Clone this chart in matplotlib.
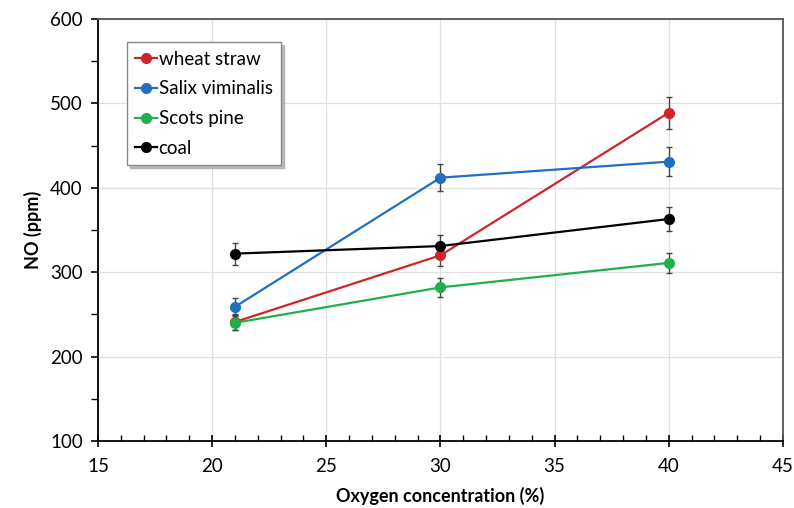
import matplotlib.pyplot as plt
from matplotlib.ticker import MultipleLocator
from matplotlib.lines import Line2D

plt.rcParams['font.family'] = ['Lato', 'DejaVu Sans']

# oxygen levels (%) and NO emissions (ppm) with std errors
oxygen = [21, 30, 40]
wheat_straw = [241, 320, 489]
wheat_straw_err = [9, 13, 19]
salix = [259, 412, 431]
salix_err = [10, 16, 17]
scots_pine = [240, 282, 311]
scots_pine_err = [8, 11, 12]
coal = [322, 331, 363]
coal_err = [13, 13, 14]

series = [
    ("wheat straw", wheat_straw, wheat_straw_err, "#d0242b"),
    ("Salix viminalis", salix, salix_err, "#1f70c1"),
    ("Scots pine", scots_pine, scots_pine_err, "#1fb04b"),
    ("coal", coal, coal_err, "black"),
]

fig = plt.figure(figsize=(7.94, 5.08), dpi=100)
ax = fig.add_axes([0.1234, 0.1319, 0.8627, 0.8307])

handles = []
for name, y, err, col in series:
    ax.errorbar(oxygen, y, yerr=err, color=col, marker='o', ms=7, lw=1.6,
                ecolor='#444444', elinewidth=1.0, capsize=2.5, capthick=1.0,
                zorder=3)
    handles.append(Line2D([], [], color=col, marker='o', ms=7, lw=1.6, label=name))

ax.set_xlim(15, 45)
ax.set_ylim(100, 600)
ax.xaxis.set_major_locator(MultipleLocator(5))
ax.xaxis.set_minor_locator(MultipleLocator(1))
ax.yaxis.set_major_locator(MultipleLocator(100))
ax.yaxis.set_minor_locator(MultipleLocator(50))
ax.tick_params(axis='x', which='major', direction='inout', length=8, width=1.2, labelsize=13.5, pad=8)
ax.tick_params(axis='x', which='minor', direction='in', length=4, width=1.0)
ax.tick_params(axis='y', which='major', direction='out', length=5, width=1.2, labelsize=13.5, pad=6)
ax.tick_params(axis='y', which='minor', direction='out', length=5, width=1.0)
ax.grid(True, which='major', color='#e0e0e0', lw=0.9, zorder=0)
ax.set_axisbelow(True)

for s in ['left', 'bottom']:
    ax.spines[s].set_linewidth(1.3)
    ax.spines[s].set_color('black')
for s in ['top', 'right']:
    ax.spines[s].set_linewidth(1.3)
    ax.spines[s].set_color('#555555')

ax.set_xlabel("Oxygen concentration (%)", fontsize=13, fontweight='bold', labelpad=9)
ax.set_ylabel("NO (ppm)", fontsize=13, fontweight='bold', labelpad=6)

leg = ax.legend(handles=handles, loc='upper left', bbox_to_anchor=(0.042, 0.945), fontsize=13.5,
                frameon=True, fancybox=False, shadow={'color': '#aaaaaa', 'alpha': 0.8},
                handlelength=1.15, handletextpad=0.1, borderpad=0.45, labelspacing=0.68,
                borderaxespad=0)
leg.get_frame().set_edgecolor('#888888')
leg.get_frame().set_linewidth(1.0)

fig.savefig("out.png", dpi=100)
